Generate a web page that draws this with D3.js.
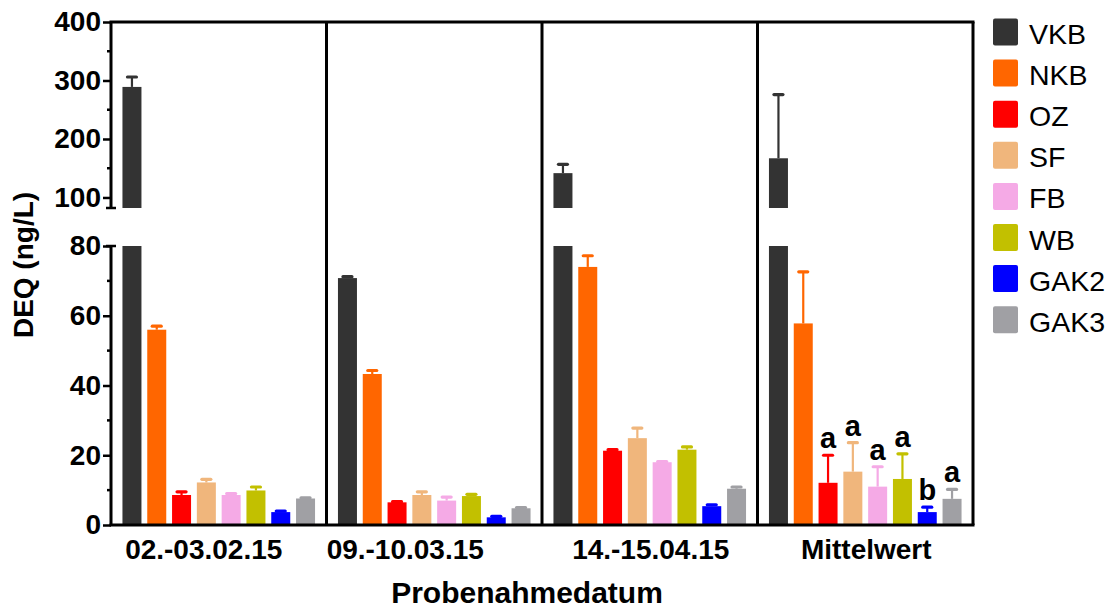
<!DOCTYPE html>
<html>
<head>
<meta charset="utf-8">
<script src="https://cdn.jsdelivr.net/npm/d3@7"></script>
<style>
  body { margin: 0; background: #ffffff; }
  text { font-family: "Liberation Sans", Arial, Helvetica, sans-serif; }
</style>
</head>
<body>
<svg id="chart" width="1113" height="611"></svg>
<script>
// Sampling dates (groups) and sites (series)
const dates = ["02.-03.02.15", "09.-10.03.15", "14.-15.04.15", "Mittelwert"];
const sites = ["VKB", "NKB", "OZ", "SF", "FB", "WB", "GAK2", "GAK3"];
const siteColors = ["#333333", "#ff6600", "#ff0000", "#f0b67c", "#f5aae6", "#c2c000", "#0000ff", "#a0a0a4"];

// DEQ (ng/L) per site, one array per sampling date, with upper error (SD)
const deq_0203 = [289, 56.0, 8.6, 12.2, 8.6, 9.9, 3.7, 7.6];
const err_0203 = [17, 1.0, 0.9, 0.9, 0.4, 1.0, 0.3, 0.2];
const deq_0910 = [70.8, 43.3, 6.5, 8.6, 7.0, 8.3, 2.2, 4.8];
const err_0910 = [0.4, 1.0, 0.2, 0.9, 1.0, 0.5, 0.3, 0.2];
const deq_1415 = [141.6, 74.0, 21.3, 24.9, 18.0, 21.6, 5.4, 10.4];
const err_1415 = [15, 3.2, 0.3, 2.9, 0.2, 0.8, 0.4, 0.5];
const deq_mean = [167, 57.8, 12.1, 15.3, 11.0, 13.2, 3.7, 7.5];
const err_mean = [109, 14.8, 7.9, 8.3, 5.7, 7.2, 1.4, 2.7];
// Significance letters for the mean group
const meanLetters = ["", "", "a", "a", "a", "a", "b", "a"];

// Broken y axis: lower and upper segments
const lowTicks = [0, 20, 40, 60, 80];
const lowMinor = [10, 30, 50, 70];
const highTicks = [100, 200, 300, 400];
const highMinor = [150, 250, 350];

const values = [deq_0203, deq_0910, deq_1415, deq_mean];
const errors = [err_0203, err_0910, err_1415, err_mean];

const svg = d3.select("#chart");
const plot = { left: 111, right: 973, top: 22, bottom: 525, breakLow: 246, breakHigh: 208 };

const yLow = d3.scaleLinear().domain([0, 80]).range([plot.bottom, plot.breakLow]);
const yHigh = d3.scaleLinear().domain([82, 400]).range([plot.breakHigh, plot.top]);
const lowMax = yLow.domain()[1];
const highMin = yHigh.domain()[0];

const xGroup = d3.scaleBand().domain(dates).range([plot.left, plot.right]).padding(0);
const xSite = d3.scaleBand().domain(sites).range([0, xGroup.bandwidth()])
  .paddingInner(0.234).paddingOuter(0.462);
const color = d3.scaleOrdinal().domain(sites).range(siteColors);

// Bars with upper error whiskers
const bars = svg.append("g");
dates.forEach((d, gi) => {
  const g = bars.append("g").attr("transform", `translate(${xGroup(d)},0)`);
  sites.forEach((s, si) => {
    const v = values[gi][si];
    const e = errors[gi][si];
    const x = xSite(s);
    const w = xSite.bandwidth();
    const c = color(s);
    const yTopLow = yLow(Math.min(v, lowMax));
    g.append("rect").attr("x", x).attr("y", yTopLow).attr("width", w)
      .attr("height", yLow(0) - yTopLow).attr("fill", c);
    let barTop = yTopLow;
    if (v > lowMax) {
      const yt = yHigh(v);
      g.append("rect").attr("x", x).attr("y", yt).attr("width", w)
        .attr("height", yHigh(highMin) - yt).attr("fill", c);
      barTop = yt;
    }
    const tv = v + e;
    const capY = tv > lowMax ? yHigh(tv) : yLow(tv);
    const cx = x + w / 2;
    g.append("line").attr("x1", cx).attr("x2", cx).attr("y1", barTop).attr("y2", capY)
      .attr("stroke", c).attr("stroke-width", 2.2);
    g.append("line").attr("x1", cx - 4.5).attr("x2", cx + 4.5).attr("y1", capY).attr("y2", capY)
      .attr("stroke", c).attr("stroke-width", 3.2).attr("stroke-linecap", "round");
    if (gi === dates.length - 1 && meanLetters[si]) {
      g.append("text").attr("x", cx).attr("y", capY - 7).attr("text-anchor", "middle")
        .attr("font-size", 29).attr("font-weight", "bold").attr("fill", "#000")
        .text(meanLetters[si]);
    }
  });
});

// Frame and group dividers
const frame = svg.append("g").attr("stroke", "#000").attr("stroke-width", 3).attr("fill", "none");
frame.append("line").attr("x1", plot.left - 1.5).attr("x2", plot.right + 1.5).attr("y1", plot.top).attr("y2", plot.top);
frame.append("line").attr("x1", plot.left - 1.5).attr("x2", plot.right + 1.5).attr("y1", plot.bottom).attr("y2", plot.bottom);
frame.append("line").attr("x1", plot.right).attr("x2", plot.right).attr("y1", plot.top).attr("y2", plot.bottom);
dates.slice(1).forEach(d => {
  frame.append("line").attr("x1", xGroup(d)).attr("x2", xGroup(d)).attr("y1", plot.top).attr("y2", plot.bottom);
});

// Y axis segments
function segment(scale, ticks, minor, yEnd) {
  const ax = d3.axisLeft(scale).tickValues(ticks).tickSize(8).tickPadding(2).tickFormat(d3.format("d"));
  const g = svg.append("g").attr("transform", `translate(${plot.left},0)`).call(ax);
  g.select(".domain").remove();
  g.selectAll(".tick line").attr("stroke", "#000").attr("stroke-width", 2.5);
  g.selectAll(".tick text").attr("font-size", 28).attr("font-weight", "bold")
    .attr("font-family", "Liberation Sans, Arial, sans-serif").attr("fill", "#000");
  minor.forEach(m => {
    g.append("line").attr("x1", -4).attr("x2", 0).attr("y1", scale(m)).attr("y2", scale(m))
      .attr("stroke", "#000").attr("stroke-width", 2.5);
  });
  const r = scale.range();
  g.append("line").attr("x1", 0).attr("x2", 0).attr("y1", r[0]).attr("y2", r[1])
    .attr("stroke", "#000").attr("stroke-width", 3);
  // break mark
  g.append("line").attr("x1", -5).attr("x2", 5).attr("y1", yEnd).attr("y2", yEnd)
    .attr("stroke", "#000").attr("stroke-width", 2.5);
}
segment(yLow, lowTicks, lowMinor, plot.breakLow);
segment(yHigh, highTicks, highMinor, plot.breakHigh);

// Group labels
const labelShift = [-15, -29, 1, 1];
svg.append("g").selectAll("text").data(dates).join("text")
  .attr("x", (d, i) => xGroup(d) + xGroup.bandwidth() / 2 + labelShift[i])
  .attr("y", 559).attr("text-anchor", "middle")
  .attr("font-size", 28).attr("font-weight", "bold").attr("fill", "#000")
  .text(d => d);

// Axis titles
svg.append("text").attr("x", 527).attr("y", 603).attr("text-anchor", "middle")
  .attr("font-size", 30).attr("font-weight", "bold").text("Probenahmedatum");
svg.append("text").attr("transform", "translate(33,265) rotate(-90)").attr("text-anchor", "middle")
  .attr("font-size", 28).attr("font-weight", "bold").text("DEQ (ng/L)");

// Legend
const legend = svg.append("g");
sites.forEach((s, i) => {
  legend.append("rect").attr("x", 993).attr("y", 18.5 + 41.1 * i).attr("width", 25).attr("height", 27)
    .attr("rx", 2).attr("fill", color(s));
  legend.append("text").attr("x", 1029).attr("y", 44 + 41.1 * i)
    .attr("font-size", 28.5).attr("fill", "#000").text(s);
});
</script>
</body>
</html>
